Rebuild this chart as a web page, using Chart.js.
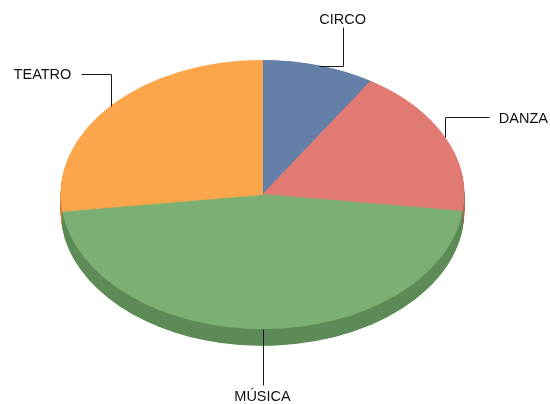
<!DOCTYPE html>
<html lang="es">
<head>
  <meta charset="UTF-8" />
  <title>Pie 3D</title>
  <script src="https://cdn.jsdelivr.net/npm/chart.js"></script>
  <style>
    html, body { margin: 0; padding: 0; background: #fff; }
    .wrap { width: 550px; height: 404px; position: relative; }
  </style>
</head>
<body>
  <div class="wrap">
    <canvas id="pie"></canvas>
  </div>

  <script>
    const labels = ['CIRCO', 'DANZA', 'MÚSICA', 'TEATRO'];
    const values = [9, 18, 46, 27];
    const colors = ['#6480A8', '#E07A73', '#7BB072', '#FCA64C'];
    const sideColors = ['#4F6788', '#B25F5A', '#5E8B58', '#CC8439'];

    // tilt of the pie: vertical squash, screen centre y, rim depth
    const K = 134.5 / 202;
    const CY = 194.5;
    const DEPTH = 17;

    // leader lines: hv = horizontal then vertical, vh = vertical then horizontal
    const labelLayout = [
      { mode: 'hv', dx: 24, dy: -39, align: 'center' },
      { mode: 'vh', dx: 44, dy: -20, align: 'left' },
      { mode: 'v', dx: 0, dy: 56, align: 'center' },
      { mode: 'vh', dx: -30, dy: -32, align: 'right' }
    ];

    const tilt = {
      id: 'tilt',
      beforeDatasetsDraw(chart) {
        const ctx = chart.ctx;
        const arcs = chart.getDatasetMeta(0).data;
        const a0 = arcs[0];
        ctx.save();
        ctx.translate(a0.x, CY);
        ctx.scale(1, K);
        ctx.translate(-a0.x, -a0.y);
        // rim
        for (let d = DEPTH; d > 0; d -= 0.5) {
          arcs.forEach((arc, i) => {
            ctx.beginPath();
            ctx.moveTo(arc.x, arc.y + d / K);
            ctx.arc(arc.x, arc.y + d / K, arc.outerRadius + 0.3, arc.startAngle, arc.endAngle);
            ctx.closePath();
            ctx.fillStyle = sideColors[i];
            ctx.fill();
          });
        }
      },
      afterDatasetsDraw(chart) {
        chart.ctx.restore();
      }
    };

    const leaders = {
      id: 'leaders',
      afterDraw(chart) {
        const ctx = chart.ctx;
        const arcs = chart.getDatasetMeta(0).data;
        ctx.save();
        ctx.strokeStyle = '#1a1a1a';
        ctx.lineWidth = 1;
        ctx.fillStyle = '#111';
        ctx.font = '14.5px "Liberation Sans", Arial, sans-serif';
        arcs.forEach((arc, i) => {
          const lay = labelLayout[i];
          const mid = (arc.startAngle + arc.endAngle) / 2;
          const ax = arc.x + arc.outerRadius * Math.cos(mid);
          const ay = CY + arc.outerRadius * K * Math.sin(mid);
          const ex = ax + lay.dx, ey = ay + lay.dy;
          ctx.beginPath();
          ctx.moveTo(Math.round(ax) + 0.5, Math.round(ay) + 0.5);
          if (lay.mode === 'hv') {
            ctx.lineTo(Math.round(ex) + 0.5, Math.round(ay) + 0.5);
          } else {
            ctx.lineTo(Math.round(ax) + 0.5, Math.round(ey) + 0.5);
          }
          ctx.lineTo(Math.round(ex) + 0.5, Math.round(ey) + 0.5);
          ctx.stroke();

          ctx.textBaseline = 'alphabetic';
          if (lay.mode === 'hv') {
            ctx.textAlign = 'center';
            ctx.fillText(labels[i], ex, ey - 2.7);
          } else if (lay.mode === 'v') {
            ctx.textAlign = 'center';
            ctx.fillText(labels[i], ex, ey + 16.7);
          } else if (lay.align === 'left') {
            ctx.textAlign = 'left';
            ctx.fillText(labels[i], ex + 10, ey + 5.3);
          } else {
            ctx.textAlign = 'right';
            ctx.fillText(labels[i], ex - 10, ey + 5.3);
          }
        });
        ctx.restore();
      }
    };

    new Chart(document.getElementById('pie'), {
      type: 'pie',
      data: {
        labels: labels,
        datasets: [{
          data: values,
          backgroundColor: colors,
          borderColor: colors,
          borderWidth: 1
        }]
      },
      options: {
        responsive: true,
        maintainAspectRatio: false,
        animation: false,
        events: [],
        layout: { padding: { left: 0, right: 25, top: 0, bottom: 0 } },
        plugins: {
          legend: { display: false },
          tooltip: { enabled: false }
        }
      },
      plugins: [tilt, leaders]
    });
  </script>
</body>
</html>
